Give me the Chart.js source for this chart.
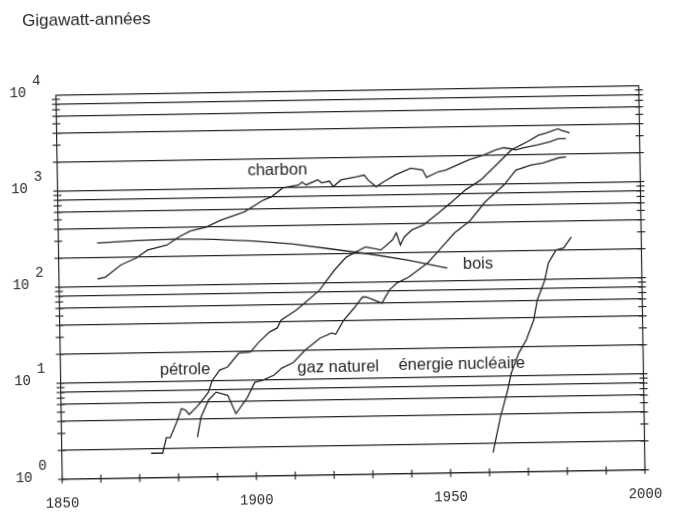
<!DOCTYPE html>
<html>
<head>
<meta charset="utf-8">
<script src="https://cdn.jsdelivr.net/npm/chart.js@4/dist/chart.umd.min.js"></script>
<style>
  html, body { margin: 0; padding: 0; background: #fff; }
  /* the printed figure sits slightly askew on the page */
  #wrap { width: 675px; height: 513px; transform: rotate(-0.93deg); }
</style>
</head>
<body>
<div id="wrap"><canvas id="energie" width="675" height="513"></canvas></div>
<script>
  'use strict'

  // Charbon
  const coalYears = [1860, 1862, 1866, 1870, 1873, 1878, 1881, 1884, 1888, 1892, 1898, 1903, 1905, 1908, 1912, 1913, 1914, 1917, 1918, 1920, 1921, 1923, 1927, 1929, 1930, 1932, 1934, 1937, 1941, 1944, 1945, 1948, 1950, 1953, 1956, 1960, 1963, 1965, 1967, 1968, 1970, 1974, 1977, 1979, 1981]
  const coalValues = [120, 125, 166, 195, 235, 263, 317, 365, 396, 468, 565, 745, 800, 990, 1050, 1125, 1050, 1180, 1100, 1140, 1000, 1170, 1250, 1300, 1150, 980, 1100, 1290, 1510, 1440, 1200, 1365, 1420, 1600, 1800, 2020, 2260, 2370, 2300, 2240, 2350, 2520, 2690, 2880, 2880]

  // Bois
  const woodYears = [1860, 1870, 1880, 1890, 1900, 1910, 1920, 1930, 1940, 1950]
  const woodValues = [283, 295, 302, 295, 280, 257, 225, 196, 166, 136]

  // Pétrole
  const oilYears = [1873, 1876, 1877, 1878, 1880, 1881, 1882, 1883, 1885, 1886, 1888, 1889, 1891, 1893, 1896, 1899, 1901, 1904, 1906, 1907, 1911, 1914, 1917, 1921, 1924, 1927, 1929, 1933, 1936, 1937, 1938, 1939, 1941, 1944, 1948, 1951, 1955, 1959, 1963, 1967, 1971, 1974, 1976, 1979, 1980, 1982]
  const oilValues = [1.8, 1.8, 2.6, 2.6, 4.0, 5.2, 5.0, 4.5, 5.4, 6.0, 7.6, 10, 12.9, 13.8, 19.2, 19.6, 24.3, 31.5, 34.6, 41.7, 52.7, 66.5, 84, 136, 183, 212, 232, 215, 272, 321, 240, 290, 343, 385, 510, 640, 880, 1110, 1580, 2250, 2700, 3170, 3330, 3650, 3500, 3300]

  // Gaz naturel
  const gasYears = [1885, 1886, 1888, 1890, 1893, 1895, 1898, 1900, 1902, 1905, 1907, 1910, 1913, 1917, 1920, 1921, 1923, 1926, 1928, 1929, 1931, 1933, 1935, 1937, 1940, 1945, 1948, 1952, 1956, 1960, 1965, 1968, 1972, 1975, 1979, 1981]
  const gasValues = [2.6, 4.2, 6.3, 7.6, 7.0, 4.5, 6.6, 9.5, 9.9, 11.2, 13.2, 15, 20, 26.7, 29.9, 29, 40, 55, 70, 70, 65, 60, 82, 97, 111, 155, 210, 314, 417, 653, 980, 1380, 1550, 1620, 1820, 1860]

  // Énergie nucléaire
  const nuclearYears = [1961, 1963, 1965, 1966, 1968, 1970, 1972, 1973, 1975, 1976, 1978, 1980, 1982]
  const nuclearValues = [1.6, 3.7, 7.1, 10.7, 17.2, 23.5, 37.8, 61, 98, 147, 200, 210, 272]

  // axes
  const yearTicks = [1850, 1900, 1950, 2000]
  const decades = [0, 1, 2, 3, 4]
  const gridSteps = [1, 2, 4, 6, 8]

  // where each curve name is written (year, value)
  const seriesLabels = [
    { text: 'charbon', year: 1899, value: 1500 },
    { text: 'bois', year: 1954, value: 149 },
    { text: 'pétrole', year: 1875.6, value: 13.1 },
    { text: 'gaz naturel', year: 1911, value: 13.0 },
    { text: 'énergie nucléaire', year: 1937, value: 13.5 }
  ]

  const INK = '#262626'
  const toPoints = (xs, ys) => xs.map((x, i) => ({ x: x, y: ys[i] }))

  const gridValues = []
  decades.forEach(e => gridSteps.forEach(k => {
    const v = k * Math.pow(10, e)
    if (v <= 10000) gridValues.push(v)
  }))

  const line = (data) => ({
    data: data,
    borderColor: INK,
    borderWidth: 1.3,
    pointRadius: 0,
    tension: 0,
    fill: false
  })

  const marks = {
    id: 'marks',
    afterDraw(chart) {
      const { ctx, chartArea: a, scales: { x, y } } = chart
      ctx.save()
      ctx.strokeStyle = INK
      ctx.lineWidth = 1.2
      const seg = (x1, y1, x2, y2) => {
        ctx.beginPath(); ctx.moveTo(x1, y1); ctx.lineTo(x2, y2); ctx.stroke()
      }
      // right-hand axis
      seg(a.right, a.top, a.right, a.bottom)
      // minor ticks on both vertical axes
      decades.slice(0, 4).forEach(e => {
        for (let k = 1; k <= 9; k++) {
          const py = y.getPixelForValue(k * Math.pow(10, e))
          seg(a.left - 4, py, a.left + 4, py)
          seg(a.right - 4, py, a.right + 4, py)
        }
      })
      // year ticks
      for (let yr = 1850; yr <= 2000; yr += 10) {
        const px = x.getPixelForValue(yr)
        seg(px, a.bottom - 4, px, a.bottom + 4)
      }
      // powers of ten
      ctx.fillStyle = INK
      ctx.font = '14px "Liberation Mono", monospace'
      ctx.textBaseline = 'middle'
      decades.forEach(e => {
        const py = y.getPixelForValue(Math.pow(10, e))
        ctx.textAlign = 'right'
        ctx.fillText('10', 29, py - 2)
        ctx.textAlign = 'left'
        ctx.fillText(String(e), 35, py - 14)
      })
      // curve names and unit
      ctx.font = '16.5px "Liberation Sans", Arial, sans-serif'
      seriesLabels.forEach(l => {
        ctx.fillText(l.text, x.getPixelForValue(l.year), y.getPixelForValue(l.value))
      })
      ctx.font = '17px "Liberation Sans", Arial, sans-serif'
      ctx.fillText('Gigawatt-années', 26, 16)
      ctx.restore()
    }
  }

  new Chart(document.getElementById('energie'), {
    type: 'line',
    data: {
      datasets: [
        line(toPoints(coalYears, coalValues)),
        line(toPoints(woodYears, woodValues)),
        line(toPoints(oilYears, oilValues)),
        line(toPoints(gasYears, gasValues)),
        line(toPoints(nuclearYears, nuclearValues))
      ]
    },
    options: {
      responsive: false,
      animation: false,
      layout: { padding: { left: 58.5, right: 33.5, top: 90.4, bottom: 5.4 } },
      plugins: { legend: { display: false }, tooltip: { enabled: false } },
      scales: {
        x: {
          type: 'linear',
          min: 1850,
          max: 2000,
          afterBuildTicks: (scale) => { scale.ticks = yearTicks.map(v => ({ value: v })) },
          afterFit: (scale) => { scale.height = 32.8 },
          ticks: {
            color: INK,
            padding: 16,
            maxRotation: 0,
            font: { family: '"Liberation Mono", monospace', size: 14 },
            callback: (v) => String(v)
          },
          grid: { drawOnChartArea: false, drawTicks: false },
          border: { color: INK, width: 1.2 }
        },
        y: {
          type: 'logarithmic',
          min: 1,
          max: 10000,
          afterBuildTicks: (scale) => { scale.ticks = gridValues.map(v => ({ value: v })) },
          ticks: { display: false },
          grid: { color: INK, lineWidth: 1.2, drawTicks: false },
          border: { color: INK, width: 1.2 }
        }
      }
    },
    plugins: [marks]
  })
</script>
</body>
</html>
